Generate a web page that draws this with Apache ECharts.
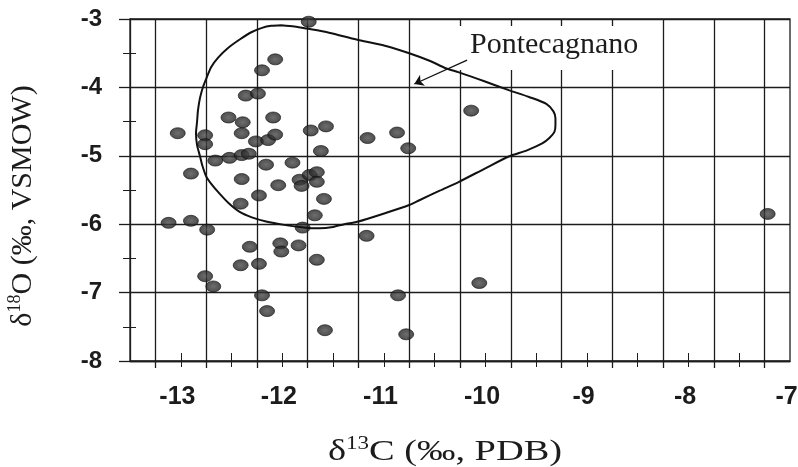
<!DOCTYPE html>
<html>
<head>
<meta charset="utf-8">
<script src="https://cdn.jsdelivr.net/npm/echarts@6/dist/echarts.min.js"></script>
<style>
  html, body { margin: 0; padding: 0; background: #fff; }
  #chart { width: 798px; height: 467px; }
</style>
</head>
<body>
<div id="chart"></div>
<script>
// samples: d13C (x) and d18O (y)
const d13C = [
  -11.49, -11.82, -11.95, -12.11, -11.99, -12.28, -12.14, -11.84, -12.78, -12.51,
  -12.15, -11.47, -11.32, -10.91, -10.62, -10.51, -12.51, -12.01, -11.89, -11.82,
  -11.37, -12.41, -12.27, -12.15, -12.08, -11.91, -11.65, -12.65, -12.15, -11.79,
  -11.58, -11.48, -11.41, -11.56, -11.41, -11.98, -11.34, -12.16, -11.43, -11.55,
  -12.87, -12.65, -12.49, -10.92, -12.07, -11.77, -11.76, -11.59, -12.16, -11.98,
  -11.41, -12.51, -12.43, -11.95, -11.90, -11.33, -10.61, -10.53, -9.89, -9.81,
  -6.97
];
const d18O = [
  -3.04, -3.59, -3.75, -4.12, -4.09, -4.44, -4.51, -4.44, -4.67, -4.70,
  -4.67, -4.63, -4.57, -4.74, -4.66, -4.89, -4.83, -4.79, -4.77, -4.69,
  -4.93, -5.07, -5.03, -4.99, -4.97, -5.13, -5.10, -5.26, -5.34, -5.43,
  -5.35, -5.28, -5.24, -5.44, -5.38, -5.58, -5.63, -5.70, -5.87, -6.05,
  -5.98, -5.95, -6.08, -6.17, -6.33, -6.28, -6.40, -6.31, -6.60, -6.58,
  -6.52, -6.76, -6.91, -7.04, -7.27, -7.55, -7.04, -7.61, -4.34, -6.86,
  -5.85
];

// Pontecagnano field outline (clockwise from the top)
const fieldX = [
  -11.76, -11.63, -11.51, -11.29, -11.02, -10.74, -10.50, -10.30, -10.14, -10.01,
  -9.76, -9.52, -9.32, -9.15, -9.08, -9.06, -9.06, -9.07, -9.12, -9.19,
  -9.34, -9.52, -9.76, -10.01, -10.20, -10.40, -10.50, -10.74, -11.00, -11.14,
  -11.25, -11.38, -11.45, -11.58, -11.73, -11.91, -12.05, -12.17, -12.28, -12.37,
  -12.45, -12.50, -12.54, -12.56, -12.59, -12.60, -12.59, -12.58, -12.56, -12.53,
  -12.49, -12.45, -12.38, -12.29, -12.17, -12.05, -11.95, -11.86, -11.76
];
const fieldY = [
  -3.09, -3.11, -3.14, -3.20, -3.30, -3.39, -3.50, -3.61, -3.72, -3.78,
  -3.91, -4.04, -4.14, -4.24, -4.35, -4.45, -4.55, -4.65, -4.74, -4.82,
  -4.92, -5.01, -5.19, -5.38, -5.51, -5.65, -5.72, -5.84, -5.96, -6.00,
  -6.04, -6.06, -6.06, -6.04, -6.01, -5.96, -5.90, -5.82, -5.69, -5.55,
  -5.41, -5.30, -5.13, -5.01, -4.84, -4.67, -4.51, -4.33, -4.15, -3.99,
  -3.84, -3.70, -3.56, -3.43, -3.30, -3.19, -3.13, -3.10, -3.09
];
const arrowFrom = [-9.93, -3.60];
const arrowTo = [-10.45, -3.95];

const xLabels = [-13, -12, -11, -10, -9, -8, -7];
const yLabels = [-8, -7, -6, -5, -4, -3];
const xHalf = [-13, -12.5, -12, -11.5, -11, -10.5, -10, -9.5, -9, -8.5, -8, -7.5, -7];
const xQuarter = [-12.75, -12.25, -11.75, -11.25, -10.75, -10.25, -9.75, -9.25, -8.75, -8.25, -7.75, -7.25];
const yHalf = [-7.5, -6.5, -5.5, -4.5, -3.5];

const ink = '#1c1c1c';
const hidden = { axisLine: { show: false }, axisLabel: { show: false }, splitLine: { show: false } };
const titleRich = {
  a: { fontFamily: 'Liberation Serif', fontSize: 30, fill: ink, color: ink, lineHeight: 34 },
  s: { fontFamily: 'Liberation Serif', fontSize: 18, fill: ink, color: ink, lineHeight: 20, verticalAlign: 'top' }
};

const chart = echarts.init(document.getElementById('chart'));
chart.setOption({
  backgroundColor: '#fff',
  animation: false,
  grid: {
    left: 130, right: 8, top: 19, bottom: 106, outerBoundsMode: 'none', containLabel: false,
    show: true, borderColor: ink, borderWidth: 1.3
  },
  xAxis: [
    {
      type: 'value', min: -13.25, max: -6.75, position: 'bottom',
      axisLine: { show: true, onZero: false, lineStyle: { color: ink, width: 1.3 } },
      axisTick: { show: true, length: 7, customValues: xHalf, lineStyle: { color: ink, width: 1.3 } },
      splitLine: { show: true, lineStyle: { color: ink, width: 1.3 } },
      axisLabel: {
        customValues: xLabels, margin: 24, padding: [0, 0, 0, 44],
        fontFamily: 'Liberation Sans', fontWeight: 'bold', fontSize: 25, color: ink,
        formatter: v => String(v)
      }
    },
    Object.assign({
      type: 'value', min: -13.25, max: -6.75, position: 'bottom',
      axisTick: { show: true, length: 6, customValues: xQuarter, lineStyle: { color: ink, width: 1 } }
    }, hidden),
    Object.assign({
      type: 'value', min: -13.25, max: -6.75, position: 'bottom',
      axisTick: { show: true, inside: true, length: 8, customValues: xQuarter, lineStyle: { color: ink, width: 1 } }
    }, hidden)
  ],
  yAxis: [
    {
      type: 'value', min: -8, max: -3, position: 'left',
      name: '{a|δ}{s|18}{a|O (‰, VSMOW)}', nameLocation: 'middle', nameGap: 90,
      nameTextStyle: { rich: titleRich, padding: [0, 32, 0, 0] },
      axisLine: { show: true, onZero: false, lineStyle: { color: ink, width: 1.3 } },
      axisTick: { show: true, length: 11, customValues: yLabels, lineStyle: { color: ink, width: 1.3 } },
      splitLine: { show: true, lineStyle: { color: ink, width: 1.3 } },
      axisLabel: {
        customValues: yLabels, margin: 28,
        fontFamily: 'Liberation Sans', fontWeight: 'bold', fontSize: 24, color: ink,
        formatter: v => String(v)
      }
    },
    Object.assign({
      type: 'value', min: -8, max: -3, position: 'left',
      axisTick: { show: true, length: 7, customValues: yHalf, lineStyle: { color: ink, width: 1 } }
    }, hidden),
    Object.assign({
      type: 'value', min: -8, max: -3, position: 'left',
      axisTick: { show: true, inside: true, length: 6, customValues: yHalf, lineStyle: { color: ink, width: 1 } }
    }, hidden)
  ],
  graphic: [
    {
      // field label, white box masks the grid behind it
      type: 'text', left: 448, top: 26, z: 3,
      style: {
        text: 'Pontecagnano', fontFamily: 'Liberation Serif', fontSize: 30, fill: ink,
        backgroundColor: '#fff', padding: [4, 22, 10, 22]
      }
    },
    {
      // x axis title (printed a little wider than the y title)
      type: 'text', x: 445, y: 452, scaleX: 1.28, z: 3,
      style: {
        text: '{a|δ}{s|13}{a|C (‰, PDB)}', rich: titleRich,
        align: 'center', verticalAlign: 'middle', fill: ink
      }
    }
  ],
  series: [
    {
      type: 'scatter', xAxisIndex: 0, yAxisIndex: 0, z: 4,
      symbol: 'circle', symbolSize: [15, 11],
      itemStyle: {
        color: new echarts.graphic.RadialGradient(0.5, 0.5, 0.6, [
          { offset: 0, color: '#4a4a4a' }, { offset: 1, color: '#171717' }
        ]),
        borderColor: '#111', borderWidth: 0.8
      },
      data: d13C.map((x, i) => [x, d18O[i]])
    },
    {
      type: 'line', xAxisIndex: 0, yAxisIndex: 0, z: 5,
      smooth: 0.25, symbol: 'none', silent: true,
      lineStyle: { color: '#111', width: 2 },
      data: fieldX.map((x, i) => [x, fieldY[i]])
    },
    {
      type: 'lines', coordinateSystem: 'cartesian2d', xAxisIndex: 0, yAxisIndex: 0, z: 5,
      symbol: ['none', 'arrow'], symbolSize: 9,
      lineStyle: { color: '#111', width: 1.3, opacity: 1 },
      data: [{ coords: [arrowFrom, arrowTo] }]
    }
  ]
});
</script>
</body>
</html>
